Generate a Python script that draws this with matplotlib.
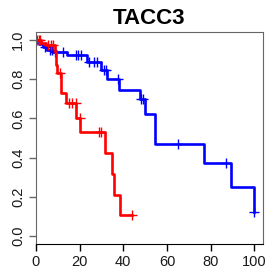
import numpy as np
import matplotlib
matplotlib.use("Agg")
import matplotlib.pyplot as plt

plt.rcParams['font.family'] = ['Liberation Sans', 'DejaVu Sans']

# blue group: step times and survival after each step
blue_time = [0, 1.5, 3, 5, 8, 14, 23.5, 30, 32.5, 38, 47.5, 50, 54.5, 77, 89.3, 100]
blue_surv = [1.0, 0.98, 0.965, 0.95, 0.94, 0.925, 0.885, 0.845, 0.80, 0.746, 0.697, 0.62, 0.467, 0.374, 0.25, 0.125]
blue_cens = [4, 6.2, 7.5, 8.5, 12.3, 18.3, 19.3, 20.8, 24.5, 26.6, 28, 31.3, 31.9, 37.6, 48.3, 49.2, 65, 87, 100]

# red group
red_time = [0, 2.5, 4.5, 8.5, 9.2, 9.6, 11.3, 13.9, 18.5, 20.3, 31.5, 34.9, 35.6, 38.7]
red_surv = [1.0, 0.985, 0.975, 0.94, 0.87, 0.83, 0.73, 0.68, 0.60, 0.53, 0.425, 0.318, 0.21, 0.107]
red_cens = [0.5, 1.2, 1.8, 5.4, 6.7, 7.7, 11.2, 15, 16.6, 18.2, 20, 28.7, 29.7, 44]
red_end = 44


def surv_at(times, surv, t):
    i = np.searchsorted(times, t, side='right') - 1
    return np.array(surv)[i]


fig = plt.figure(figsize=(2.71, 2.77), dpi=100)
ax = fig.add_axes([0.1328, 0.1191, 0.8376, 0.7653])

for times, surv, cens, end, col in [
        (blue_time, blue_surv, blue_cens, 100, '#0000FF'),
        (red_time, red_surv, red_cens, red_end, '#FF0000')]:
    t = list(times) + [end]
    s = list(surv) + [surv[-1]]
    ax.step(t, s, where='post', color=col, lw=1.9)
    ax.plot(cens, surv_at(times, surv, cens), '+', color=col, ms=7, mew=1)

ax.set_xlim(0, 104)
ax.set_ylim(-0.04, 1.04)
ax.set_xticks([0, 20, 40, 60, 80, 100])
ax.set_yticks([0.0, 0.2, 0.4, 0.6, 0.8, 1.0])
ax.set_yticklabels(['0.0', '0.2', '0.4', '0.6', '0.8', '1.0'], rotation=90, va='center')
ax.tick_params(axis='both', direction='out', length=5, width=1, labelsize=10.5, colors='#1a1a1a')
ax.tick_params(axis='y', color='#666666', pad=3)
ax.tick_params(axis='x', color='black', pad=3)
for sp in ['left', 'top', 'right']:
    ax.spines[sp].set_color('#666666')
ax.spines['bottom'].set_color('black')
ax.set_title('TACC3', fontsize=16, fontweight='bold', pad=6)

fig.savefig('out.png', dpi=100)
